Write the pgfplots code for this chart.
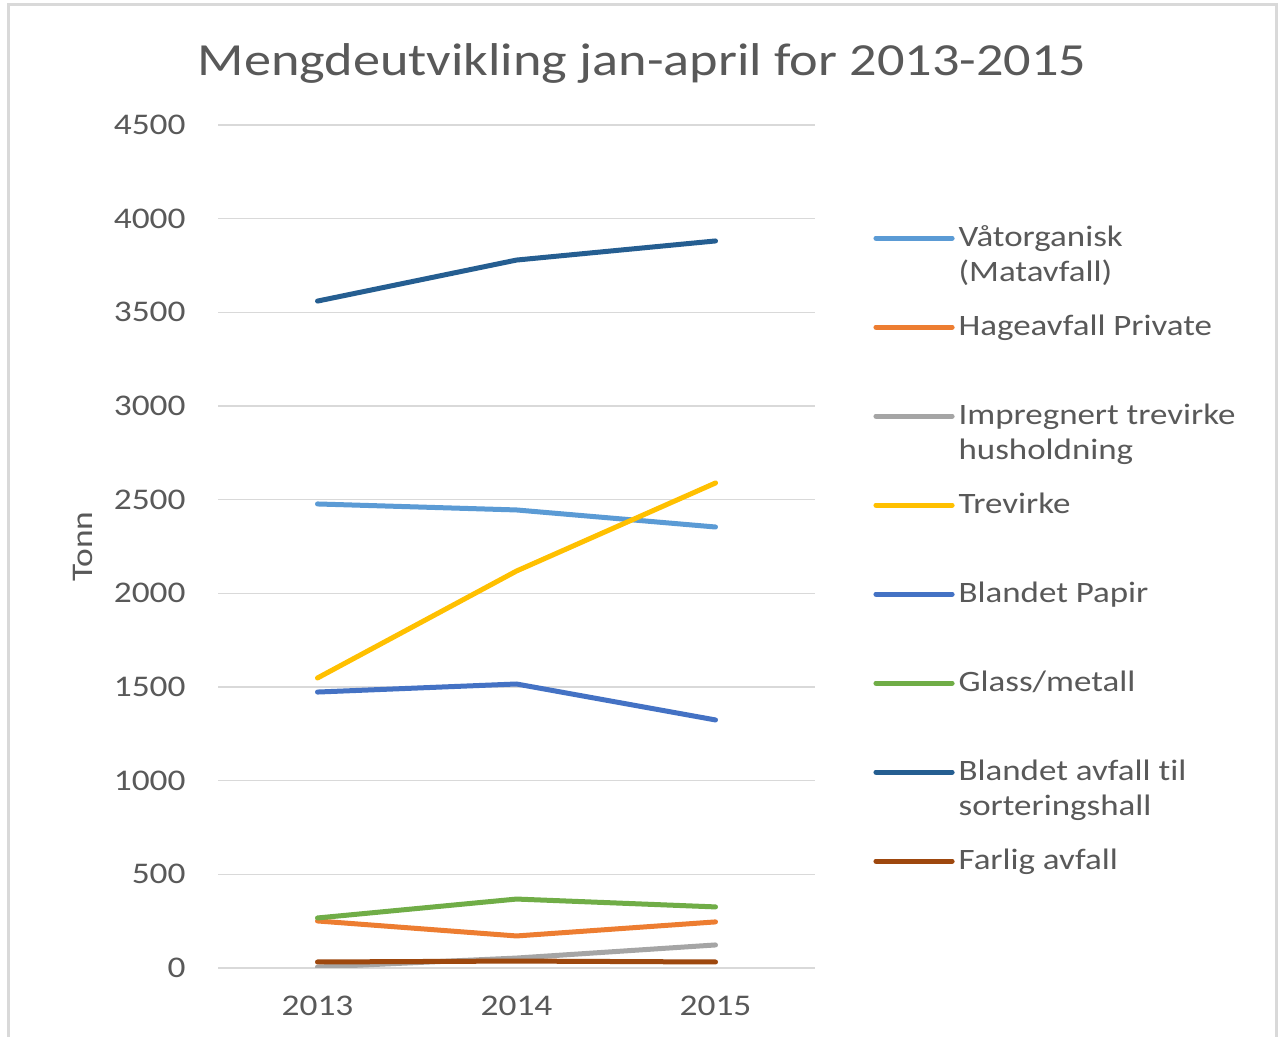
\documentclass[border=0pt]{standalone}
\usepackage{fontspec}
\setmainfont{Carlito}[FakeStretch=1.18, Ligatures=NoCommon]
\usepackage{pgfplots}
\pgfplotsset{compat=1.18}
\definecolor{cA}{HTML}{5B9BD5}
\definecolor{cB}{HTML}{ED7D31}
\definecolor{cC}{HTML}{A5A5A5}
\definecolor{cD}{HTML}{FFC000}
\definecolor{cE}{HTML}{4472C4}
\definecolor{cF}{HTML}{70AD47}
\definecolor{cG}{HTML}{255E91}
\definecolor{cH}{HTML}{9E480E}
\definecolor{labelgray}{HTML}{595959}
\definecolor{gridgray}{HTML}{D9D9D9}
\definecolor{framegray}{HTML}{D9D9D9}
\newcommand\LE[1]{\parbox[t]{170pt}{\strut #1}}
\begin{document}
\begin{tikzpicture}
\useasboundingbox (0,0) rectangle (640pt,518.5pt);
\fill[white] (0,0) rectangle (640pt,518.5pt);
\draw[framegray, line width=1.5pt] (4pt,-5pt) rectangle (638pt,516pt);
\node[text=labelgray, font=\fontsize{23}{27}\selectfont] at (321pt,486.5pt) {Mengdeutvikling jan-april for 2013-2015};
\begin{axis}[
  at={(109pt,34.5pt)}, anchor=south west,
  scale only axis, width=298.5pt, height=421.5pt,
  xmin=2012.5, xmax=2015.5, ymin=0, ymax=4500,
  xtick={2013,2014,2015}, xticklabels={2013,2014,2015},
  ytick={0,500,...,4500},
  axis line style={draw=none},
  ymajorgrids, grid style={gridgray, line width=0.7pt},
  major tick length=0pt,
  tick label style={font=\fontsize{15}{18}\selectfont, text=labelgray},
  /pgf/number format/assume math mode=true,
  /pgf/number format/1000 sep={},
  yticklabel style={inner sep=0pt, anchor=east, xshift=-16pt},
  xticklabel style={inner sep=0pt, anchor=north, yshift=-14pt},
  ylabel={Tonn},
  ylabel style={at={(axis description cs:-0.2261,0.5)}, anchor=center, font=\fontsize{15}{18}\selectfont, text=labelgray},
  legend cell align=left,
  legend style={at={(1.0972,0.8849)}, anchor=north west, draw=none, fill=none, inner sep=0pt,
    font=\fontsize{14.8}{17.5}\selectfont, text=labelgray,
    cells={anchor=base west},
    nodes={inner sep=0pt, text height=12.25pt, text depth=32.25pt},
    column sep=2pt, row sep=0pt},
  legend image code/.code={\draw[#1, line width=2.6pt, line cap=round] (0pt,4.4pt) -- (38pt,4.4pt);},
  every axis plot/.append style={line width=2.5pt, line join=round, line cap=round},
]
\addplot[cA] coordinates {(2013,2477) (2014,2445) (2015,2354)};
\addlegendentry{\LE{Våtorganisk\\(Matavfall)}}
\addplot[cB] coordinates {(2013,251) (2014,171) (2015,246)};
\addlegendentry{\LE{Hageavfall Private}}
\addplot[cC] coordinates {(2013,5) (2014,53) (2015,123)};
\addlegendentry{\LE{Impregnert trevirke\\husholdning}}
\addplot[cD] coordinates {(2013,1548) (2014,2119) (2015,2589)};
\addlegendentry{\LE{Trevirke}}
\addplot[cE] coordinates {(2013,1473) (2014,1516) (2015,1324)};
\addlegendentry{\LE{Blandet Papir}}
\addplot[cF] coordinates {(2013,267) (2014,368) (2015,326)};
\addlegendentry{\LE{Glass/metall}}
\addplot[cG] coordinates {(2013,3560) (2014,3779) (2015,3881)};
\addlegendentry{\LE{Blandet avfall til\\sorteringshall}}
\addplot[cH] coordinates {(2013,32) (2014,37) (2015,32)};
\addlegendentry{\LE{Farlig avfall}}
\end{axis}
\end{tikzpicture}
\end{document}
